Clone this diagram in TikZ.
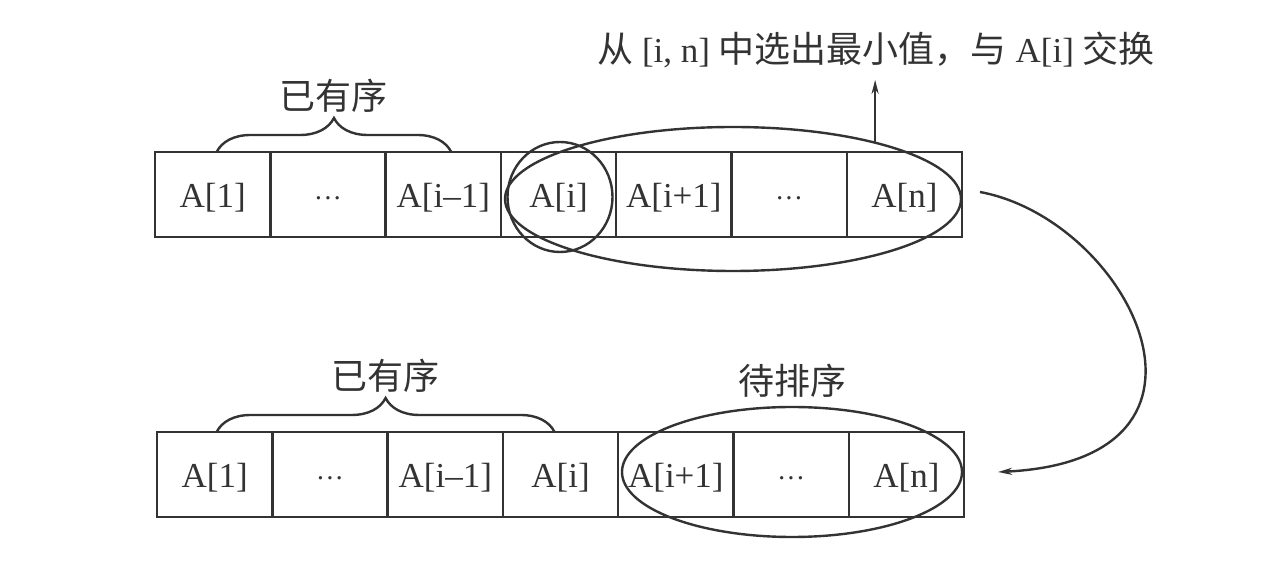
\documentclass[tikz,border=0pt]{standalone}
\usepackage{fontspec}
\setmainfont{Liberation Serif}
\newfontfamily\cjk{Noto Sans CJK SC}
\usetikzlibrary{positioning}
\usetikzlibrary{shapes.geometric}
\usetikzlibrary{decorations.pathreplacing}
\usetikzlibrary{arrows.meta}
\newcommand{\celldots}{{\fontsize{14}{16}\selectfont ···}}

\begin{document}
\begin{tikzpicture}[
                            x=0.5pt, y=0.5pt,
                            line width=1.2pt,
                            color=black!80,
                            font=\fontsize{17.5}{20}\selectfont,
                            cell/.style={draw, rectangle, minimum width=57.65pt, minimum height=42.5pt,
                                         inner sep=0pt, outer sep=0pt, text height=15pt, text depth=1.5pt},
                            ring/.style={draw, ellipse, inner sep=0pt},
                            brace/.style={decorate, decoration={brace, amplitude=17pt}},
                            cjklabel/.style={font=\cjk\fontsize{18}{20}\selectfont},
                            tip/.style={-{Stealth[length=7pt, width=3.5pt]}}
                            ]
                            \useasboundingbox (0,0) rectangle (1280,-576);

                            % top row
                            \node[cell, anchor=north west] (t1) at (155,-152) {A[1]};
                            \node[cell, right=0pt of t1]   (t2) {\celldots};
                            \node[cell, right=0pt of t2]   (t3) {A[i--1]};
                            \node[cell, right=0pt of t3]   (t4) {A[i]};
                            \node[cell, right=0pt of t4]   (t5) {A[i+1]};
                            \node[cell, right=0pt of t5]   (t6) {\celldots};
                            \node[cell, right=0pt of t6]   (t7) {A[n]};

                            % bottom row
                            \node[cell, anchor=north west] (b1) at (157,-432) {A[1]};
                            \node[cell, right=0pt of b1]   (b2) {\celldots};
                            \node[cell, right=0pt of b2]   (b3) {A[i--1]};
                            \node[cell, right=0pt of b3]   (b4) {A[i]};
                            \node[cell, right=0pt of b4]   (b5) {A[i+1]};
                            \node[cell, right=0pt of b5]   (b6) {\celldots};
                            \node[cell, right=0pt of b6]   (b7) {A[n]};

                            % rings
                            \node[ring, minimum width=228pt, minimum height=72pt] (big)  at (733,-199) {};
                            \node[ring, minimum width=52.5pt, minimum height=55pt] (cur) at (560,-197) {};
                            \node[ring, minimum width=170pt, minimum height=65pt] (rest) at (792,-472) {};

                            % labels
                            \node (msg) at (876,-50) {{\cjk\fontsize{18}{20}\selectfont 从} [i, n] {\cjk\fontsize{18}{20}\selectfont 中选出最小值，与} A[i] {\cjk\fontsize{18}{20}\selectfont 交换}};
                            \node[cjklabel, above=0pt of rest] (todo) {待排序};

                            \draw[brace] ([xshift=2pt]t1.north) -- ([xshift=4pt]t3.north)
                                node[cjklabel, midway, above=16pt] (done1) {已有序};
                            \draw[brace] ([xshift=1pt]b1.north) -- ([xshift=-3pt]b4.north)
                                node[cjklabel, midway, above=16pt] (done2) {已有序};

                            % arrows
                            \draw[tip] (big.22.8) -- ([yshift=-2pt]big.22.8 |- msg.south);

                            \coordinate (from) at (980,-192);
                            \coordinate (to)   at (998,-472);
                            \draw[tip] (from) .. controls (1130,-220) and (1250,-460) .. (to);
                        \end{tikzpicture}
\end{document}
